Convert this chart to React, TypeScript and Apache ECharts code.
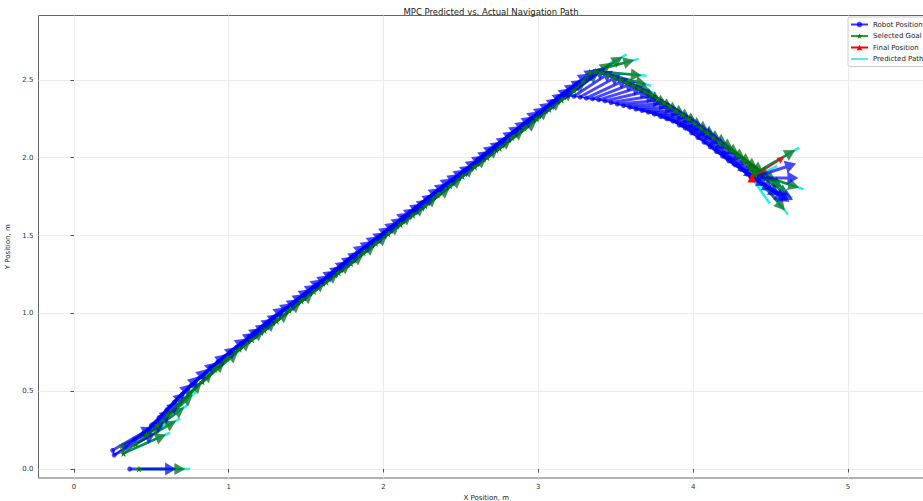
import { useEffect, useRef } from "react";
import * as echarts from "echarts";

// ---- data ----
const robotX = [
  0.25, 0.26, 0.33, 0.39, 0.45, 0.5, 0.55, 0.6, 0.65, 0.7, 0.76, 0.82, 0.88,
  0.93, 0.97, 1.01, 1.05, 1.09, 1.13, 1.17, 1.21, 1.25, 1.29, 1.33, 1.37, 1.41, 1.45, 1.49, 1.53, 1.57, 1.61, 1.65, 1.69,
  1.73, 1.77, 1.81, 1.85, 1.89, 1.93, 1.97, 2.01, 2.05, 2.09, 2.13, 2.17, 2.21, 2.25, 2.29, 2.33, 2.37, 2.41, 2.45, 2.49,
  2.53, 2.57, 2.61, 2.65, 2.69, 2.73, 2.77, 2.81, 2.85, 2.89, 2.93, 2.97, 3.01, 3.05, 3.09, 3.13,
  3.19, 3.23, 3.27, 3.31, 3.35, 3.39, 3.43, 3.47, 3.51, 3.55, 3.59, 3.63, 3.67, 3.71, 3.75, 3.79,
  3.83, 3.87, 3.91, 3.95, 3.99, 4.03, 4.07, 4.11, 4.15, 4.19, 4.23, 4.27, 4.31, 4.35, 4.37,
  4.38, 4.38, 4.38,
];
const robotY = [
  0.12, 0.09, 0.14, 0.19, 0.23, 0.28, 0.33, 0.38, 0.43, 0.48, 0.54, 0.59, 0.65,
  0.69, 0.72, 0.75, 0.78, 0.81, 0.85, 0.88, 0.91, 0.94, 0.97, 1.0, 1.03, 1.06, 1.09, 1.12, 1.15, 1.18, 1.21, 1.25, 1.28,
  1.31, 1.34, 1.37, 1.4, 1.43, 1.46, 1.49, 1.52, 1.55, 1.58, 1.62, 1.65, 1.68, 1.71, 1.74, 1.77, 1.8, 1.83, 1.86, 1.89,
  1.92, 1.95, 1.99, 2.02, 2.05, 2.08, 2.11, 2.14, 2.17, 2.2, 2.23, 2.26, 2.29, 2.32, 2.36, 2.39,
  2.4, 2.395, 2.39, 2.383, 2.378, 2.372, 2.365, 2.355, 2.345, 2.335, 2.325, 2.313, 2.303, 2.293, 2.28, 2.265,
  2.25, 2.235, 2.21, 2.19, 2.16, 2.13, 2.1, 2.07, 2.04, 2.01, 1.98, 1.955, 1.925, 1.895, 1.88,
  1.87, 1.87, 1.87,
];
const robotHeading = [
  30, 28, 33, 37, 41, 44, 46, 46, 45, 43, 41, 40, 39,
  38, 38, 37, 38, 38, 39, 38, 37, 38, 38, 38, 39, 38, 38, 37, 38, 38, 38, 39, 38,
  38, 37, 38, 38, 38, 39, 38, 38, 37, 38, 38, 38, 39, 38, 38, 37, 38, 38, 38, 39,
  38, 38, 37, 38, 38, 38, 39, 38, 38, 37, 38, 38, 38, 37, 37, 36,
  36, 33, 29, 25, 21, 17, 13, 9, 5, 2, -1, -4, -7, -10, -13, -16,
  -19, -21, -23, -25, -27, -29, -30, -31, -32, -33, -33, -34, -34, -34, -33,
  18, 0, -28,
];

const goalX = [
  0.31, 0.32, 0.4, 0.47, 0.54, 0.61, 0.68, 0.75, 0.83, 0.91,
  0.99, 1.07, 1.15, 1.23, 1.31, 1.39, 1.47, 1.55, 1.63, 1.71, 1.79, 1.87, 1.95, 2.03, 2.11, 2.19, 2.27, 2.35, 2.43, 2.51,
  2.59, 2.67, 2.75, 2.83, 2.91, 2.99, 3.07, 3.15, 3.23,
  3.29, 3.33,
  3.37, 3.41, 3.45, 3.49, 3.53, 3.57, 3.61, 3.65, 3.69, 3.73, 3.77, 3.81, 3.85,
  3.89, 3.93, 3.97, 4.01, 4.05, 4.09, 4.13, 4.17, 4.21, 4.25, 4.29, 4.33, 4.37,
  4.4, 4.4, 4.4,
];
const goalY = [
  0.15, 0.1, 0.16, 0.22, 0.28, 0.35, 0.42, 0.49, 0.56, 0.64,
  0.71, 0.77, 0.83, 0.89, 0.95, 1.02, 1.08, 1.14, 1.2, 1.26, 1.32, 1.39, 1.45, 1.51, 1.57, 1.63, 1.69, 1.76, 1.82, 1.88,
  1.94, 2.0, 2.06, 2.13, 2.19, 2.25, 2.31, 2.37, 2.43,
  2.49, 2.55,
  2.555, 2.548, 2.535, 2.515, 2.5, 2.482, 2.463, 2.445, 2.425, 2.405, 2.38, 2.355, 2.33,
  2.3, 2.275, 2.25, 2.22, 2.19, 2.16, 2.13, 2.1, 2.075, 2.045, 2.015, 1.98, 1.93,
  1.9, 1.9, 1.89,
];
const goalHeading = [
  26, 24, 30, 36, 41, 44, 44, 42, 40, 39,
  38, 38, 37, 38, 38, 39, 38, 38, 37, 38, 38, 38, 39, 38, 38, 37, 38, 38, 38, 39,
  38, 38, 37, 38, 38, 38, 38, 37, 37,
  32, 15,
  -5, -15, -22, -26, -28, -29, -30, -31, -31, -32, -32, -33, -33,
  -33, -34, -34, -34, -35, -35, -35, -35, -35, -35, -35, -35, -35,
  30, -18, -50,
];

const startRobotX = [0.36];
const startRobotY = [0.0];
const startRobotHeading = [0];
const startGoalX = [0.42];
const startGoalY = [0.0];
const startGoalHeading = [0];

const finalX = [4.38];
const finalY = [1.87];
const finalHeading = [33];

const endPathX = [4.38, 4.38, 4.38];
const endPathY = [1.87, 1.87, 1.87];
const endPathHeading = [-55, -40, 25];
const endPathLength = [0.2, 0.22, 0.18];

const xTicks = [0, 1, 2, 3, 4, 5];
const yTicks = [0, 0.5, 1.0, 1.5, 2.0, 2.5];

const ARROW_LEN = 0.3;
const PRED_LEN = 0.33;
const FONT = "DejaVu Sans";
const STAR = "path://M50,0 L61,35 L98,35 L68,57 L79,91 L50,70 L21,91 L32,57 L2,35 L39,35 Z";
const LINE_ICON = "path://M0,0 L17,0 L17,1.6 L0,1.6 Z";

function arrowPoints(api: any, x: number, y: number, hdeg: number, len: number, shaft: number, hl: number, hw: number) {
  const r = (hdeg * Math.PI) / 180;
  const p0 = api.coord([x, y]);
  const p1 = api.coord([x + len * Math.cos(r), y + len * Math.sin(r)]);
  const dx = p1[0] - p0[0];
  const dy = p1[1] - p0[1];
  const L = Math.hypot(dx, dy) || 1;
  const ux = dx / L, uy = dy / L;
  const nx = -uy, ny = ux;
  const h = Math.min(hl, L);
  const bx = p1[0] - ux * h, by = p1[1] - uy * h;
  return [
    [p0[0] + (nx * shaft) / 2, p0[1] + (ny * shaft) / 2],
    [bx + (nx * shaft) / 2, by + (ny * shaft) / 2],
    [bx + (nx * hw) / 2, by + (ny * hw) / 2],
    [p1[0], p1[1]],
    [bx - (nx * hw) / 2, by - (ny * hw) / 2],
    [bx - (nx * shaft) / 2, by - (ny * shaft) / 2],
    [p0[0] - (nx * shaft) / 2, p0[1] - (ny * shaft) / 2],
  ];
}

const zip3 = (a: number[], b: number[], c: number[]) => a.map((v, i) => [v, b[i], c[i]]);

export default function App() {
  const ref = useRef<HTMLDivElement>(null);
  useEffect(() => {
    if (!ref.current) return;
    const chart = echarts.init(ref.current, undefined, { renderer: "svg" });

    const robotArrowData = zip3(startRobotX, startRobotY, startRobotHeading).concat(zip3(robotX, robotY, robotHeading));
    const goalArrowData = zip3(startGoalX, startGoalY, startGoalHeading).concat(zip3(goalX, goalY, goalHeading));
    const predData = goalArrowData
      .map((d) => [d[0], d[1], d[2], PRED_LEN])
      .concat(endPathX.map((v, i) => [v, endPathY[i], endPathHeading[i], endPathLength[i]]));
    const finalArrowData = zip3(finalX, finalY, finalHeading);

    const arrowSeries = (name: string, data: number[][], fill: string, shaft: number, hl: number, hw: number, len: number) => ({
      type: "custom",
      name,
      data,
      encode: { x: 0, y: 1 },
      silent: true,
      renderItem: (_p: any, api: any) => ({
        type: "polygon",
        shape: { points: arrowPoints(api, api.value(0), api.value(1), api.value(2), len, shaft, hl, hw) },
        style: { fill },
      }),
    });

    const option: any = {
      animation: false,
      textStyle: { fontFamily: FONT },
      title: {
        text: "MPC Predicted vs. Actual Navigation Path",
        left: 486,
        top: 2,
        textAlign: "center",
        textStyle: { fontSize: 8.5, fontWeight: "normal", color: "#222", fontFamily: FONT },
      },
      grid: {
        left: 38.5,
        right: 26,
        top: 15.5,
        bottom: 23,
        containLabel: false,
        outerBoundsMode: "none",
        show: true,
        borderColor: "#666",
        borderWidth: 1,
        backgroundColor: "transparent",
      },
      legend: {
        orient: "vertical",
        left: 848,
        top: 17,
        itemWidth: 17,
        itemHeight: 7,
        itemGap: 4.5,
        padding: [4, 4, 4, 2],
        borderColor: "#cccccc",
        borderWidth: 1,
        borderRadius: 2,
        backgroundColor: "rgba(255,255,255,0.85)",
        textStyle: { fontSize: 7, color: "#222", fontFamily: FONT },
        data: [
          "Robot Position",
          "Selected Goal",
          "Final Position",
          { name: "Predicted Path", icon: LINE_ICON, itemStyle: { color: "#33e0e0" } },
        ],
      },
      xAxis: {
        type: "value",
        min: -0.229,
        max: 5.556,
        name: "X Position, m",
        nameLocation: "middle",
        nameGap: 15,
        nameTextStyle: { fontSize: 7, color: "#222", fontFamily: FONT },
        axisLine: { show: false },
        axisTick: { show: true, length: 3.5, customValues: xTicks, lineStyle: { color: "#555" } },
        axisLabel: { customValues: xTicks, fontSize: 7, color: "#333", margin: 5, fontFamily: FONT },
        splitLine: { show: true, lineStyle: { color: "#ebebeb", width: 1 } },
      },
      yAxis: {
        type: "value",
        min: -0.058,
        max: 2.914,
        name: "Y Position, m",
        nameLocation: "middle",
        nameGap: 22,
        nameRotate: 90,
        nameTextStyle: { fontSize: 7, color: "#222", fontFamily: FONT },
        axisLine: { show: false },
        axisTick: { show: true, length: 3.5, customValues: yTicks, lineStyle: { color: "#555" } },
        axisLabel: {
          customValues: yTicks,
          fontSize: 7,
          color: "#333",
          margin: 5,
          fontFamily: FONT,
          formatter: (v: number) => v.toFixed(1),
        },
        splitLine: { show: true, lineStyle: { color: "#ebebeb", width: 1 } },
      },
      series: [
        {
          type: "custom",
          name: "predLines",
          data: predData,
          encode: { x: 0, y: 1 },
          silent: true,
          renderItem: (_p: any, api: any) => {
            const r = (api.value(2) * Math.PI) / 180;
            const len = api.value(3);
            const p0 = api.coord([api.value(0), api.value(1)]);
            const p1 = api.coord([api.value(0) + len * Math.cos(r), api.value(1) + len * Math.sin(r)]);
            return {
              type: "line",
              shape: { x1: p0[0], y1: p0[1], x2: p1[0], y2: p1[1] },
              style: { stroke: "rgba(0,235,235,0.85)", lineWidth: 2.5 },
            };
          },
        },
        arrowSeries("goalArrows", goalArrowData, "rgba(0,110,20,0.75)", 2.5, 11, 12, ARROW_LEN),
        arrowSeries("robotArrows", robotArrowData, "rgba(0,0,255,0.72)", 3, 11, 13, ARROW_LEN),
        arrowSeries("finalArrow", finalArrowData, "rgba(255,0,0,0.9)", 1.5, 7, 7, 0.25),
        {
          type: "line",
          name: "Robot Position",
          data: robotX.map((v, i) => [v, robotY[i]]),
          symbol: "circle",
          symbolSize: 5,
          color: "#0000ff",
          lineStyle: { width: 1.5, color: "#0000ff", opacity: 0.8 },
          itemStyle: { color: "#0000ff", opacity: 0.7 },
          silent: true,
        },
        {
          type: "line",
          name: "Robot Position",
          data: startRobotX.map((v, i) => [v, startRobotY[i]]),
          symbol: "circle",
          symbolSize: 5,
          color: "#0000ff",
          itemStyle: { color: "#0000ff", opacity: 0.7 },
          silent: true,
        },
        {
          type: "line",
          name: "Selected Goal",
          data: goalX.map((v, i) => [v, goalY[i]]),
          symbol: STAR,
          symbolSize: 7,
          color: "#008000",
          lineStyle: { width: 1.5, color: "#008000", opacity: 0.8 },
          itemStyle: { color: "#008000" },
          silent: true,
        },
        {
          type: "line",
          name: "Selected Goal",
          data: startGoalX.map((v, i) => [v, startGoalY[i]]),
          symbol: STAR,
          symbolSize: 7,
          color: "#008000",
          itemStyle: { color: "#008000" },
          silent: true,
        },
        {
          type: "line",
          name: "Final Position",
          data: finalX.map((v, i) => [v, finalY[i]]),
          symbol: "triangle",
          symbolSize: 9,
          color: "#ff0000",
          lineStyle: { width: 1.5, color: "#ff0000" },
          itemStyle: { color: "#ff0000" },
          silent: true,
        },
        {
          type: "line",
          name: "Predicted Path",
          data: [],
          symbol: "none",
          color: "#33e0e0",
          lineStyle: { width: 1.5, color: "#33e0e0" },
          silent: true,
        },
      ],
    };
    chart.setOption(option);
    return () => chart.dispose();
  }, []);

  return (
    <div style={{ position: "fixed", left: 0, top: 0, width: 923, height: 501, overflow: "hidden", background: "#fff" }}>
      <div ref={ref} style={{ width: 960, height: 501 }} />
    </div>
  );
}
